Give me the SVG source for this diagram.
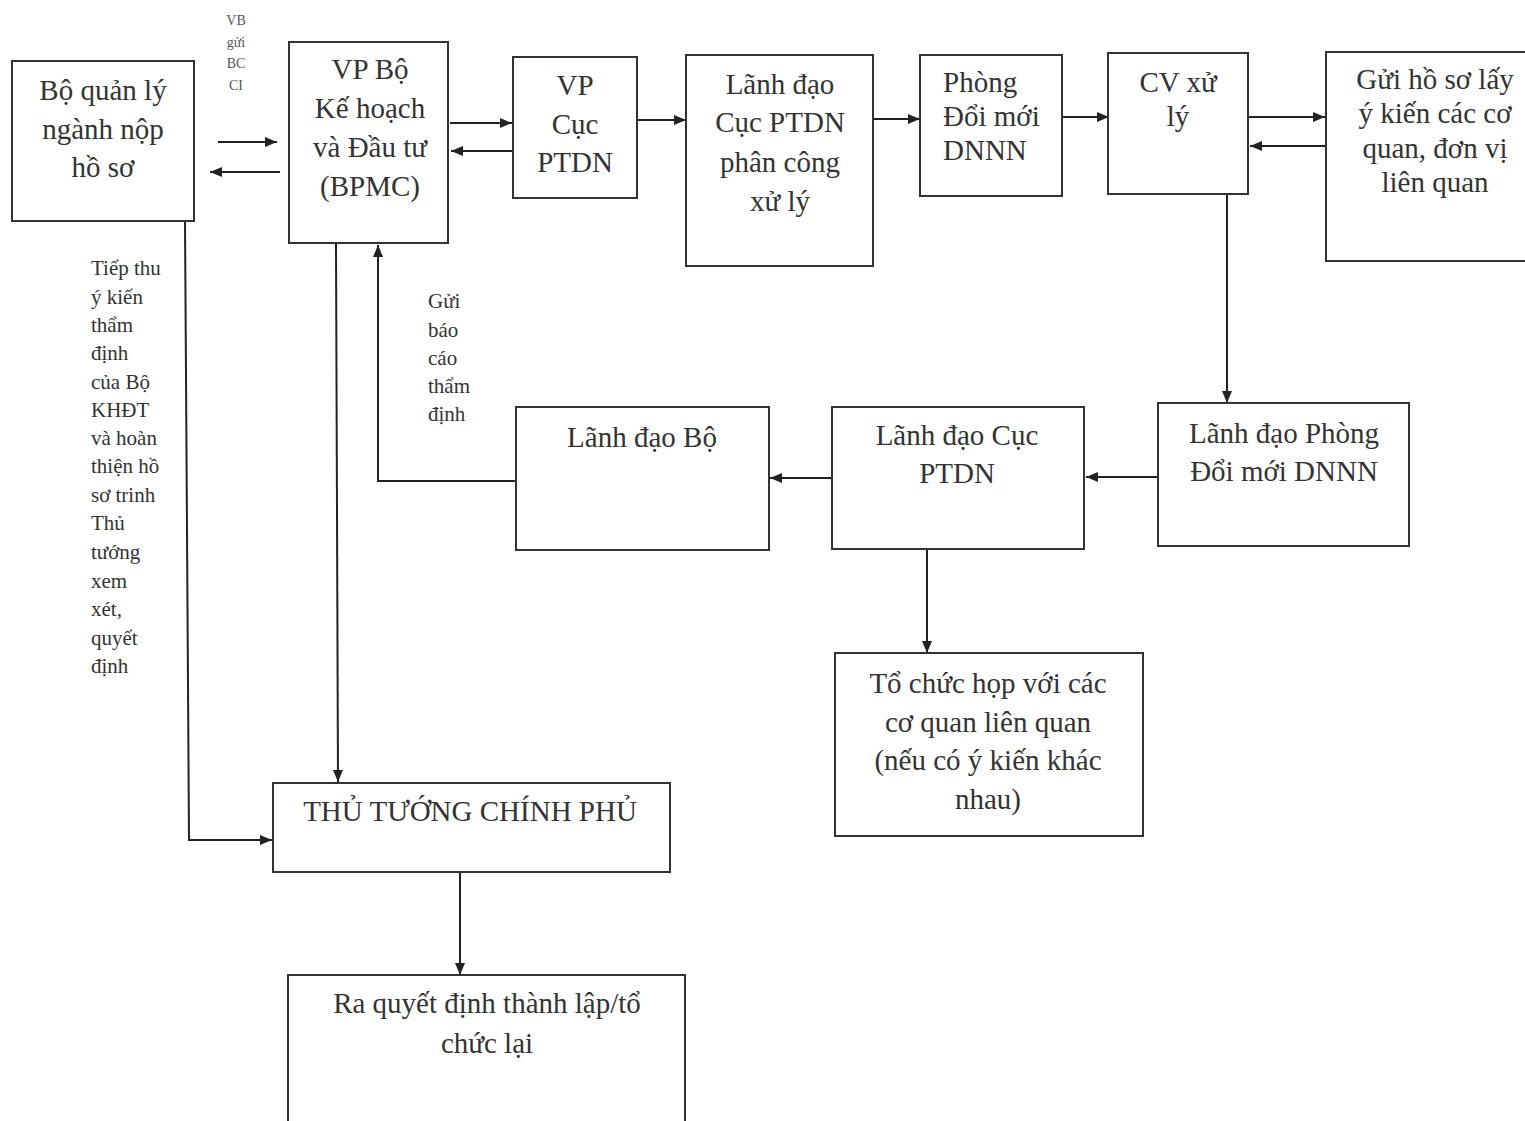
<svg xmlns="http://www.w3.org/2000/svg" width="1525" height="1121" viewBox="0 0 1525 1121">
<defs>
<marker id="ah" viewBox="0 0 12 10" refX="12" refY="5" markerWidth="12" markerHeight="10" markerUnits="userSpaceOnUse" orient="auto">
<path d="M0,0 L12,5 L0,10 Z" fill="#222"/>
</marker>
<style>
.box{fill:#fff;stroke:#333;stroke-width:2}
.t{font-family:"Liberation Serif","Times New Roman",serif;font-size:29px;fill:#333;text-anchor:middle}
.tl{font-family:"Liberation Serif","Times New Roman",serif;font-size:29px;fill:#333}
.s{font-family:"Liberation Serif","Times New Roman",serif;font-size:21px;fill:#333}
.xs{font-family:"Liberation Serif","Times New Roman",serif;font-size:14px;fill:#555;text-anchor:middle}
.c{fill:none;stroke:#222;stroke-width:2}
.ca{fill:none;stroke:#222;stroke-width:2;marker-end:url(#ah)}
</style>
</defs>
<rect width="1525" height="1121" fill="#fff"/>

<g id="connectors">
<line class="ca" x1="218" y1="142" x2="277" y2="142"/>
<line class="ca" x1="280" y1="172" x2="210" y2="172"/>
<line class="ca" x1="450" y1="123" x2="512" y2="123"/>
<line class="ca" x1="512" y1="151" x2="451" y2="151"/>
<line class="ca" x1="638" y1="120" x2="686" y2="120"/>
<line class="ca" x1="873" y1="119" x2="920" y2="119"/>
<line class="ca" x1="1062" y1="117" x2="1109" y2="117"/>
<line class="ca" x1="1249" y1="117" x2="1325" y2="117"/>
<line class="ca" x1="1326" y1="146" x2="1250" y2="146"/>
<line class="ca" x1="1227" y1="195" x2="1227" y2="403"/>
<line class="ca" x1="1158" y1="477" x2="1086" y2="477"/>
<line class="ca" x1="832" y1="478" x2="770" y2="478"/>
<polyline class="ca" points="516,481 378,481 378,245"/>
<line class="ca" x1="927" y1="550" x2="927" y2="653"/>
<line class="ca" x1="336" y1="244" x2="338" y2="782"/>
<polyline class="ca" points="185,221 189,840 272,840"/>
<line class="ca" x1="460" y1="872" x2="460" y2="975"/>
</g>

<g id="n1"><rect class="box" x="12" y="61" width="182" height="160"/>
<text class="t" x="103" y="100">Bộ quản lý</text>
<text class="t" x="103" y="139">ngành nộp</text>
<text class="t" x="103" y="177">hồ sơ</text></g>

<g id="n2"><rect class="box" x="289" y="42" width="159" height="201"/>
<text class="t" x="370" y="79">VP Bộ</text>
<text class="t" x="370" y="118">Kế hoạch</text>
<text class="t" x="370" y="157">và Đầu tư</text>
<text class="t" x="370" y="196">(BPMC)</text></g>

<g id="n3"><rect class="box" x="513" y="57" width="124" height="141"/>
<text class="t" x="575" y="95">VP</text>
<text class="t" x="575" y="134">Cục</text>
<text class="t" x="575" y="172">PTDN</text></g>

<g id="n4"><rect class="box" x="686" y="55" width="187" height="211"/>
<text class="t" x="780" y="94">Lãnh đạo</text>
<text class="t" x="780" y="132">Cục PTDN</text>
<text class="t" x="780" y="172">phân công</text>
<text class="t" x="780" y="211">xử lý</text></g>

<g id="n5"><rect class="box" x="920" y="55" width="142" height="141"/>
<text class="tl" x="943" y="92">Phòng</text>
<text class="tl" x="943" y="126">Đổi mới</text>
<text class="tl" x="943" y="160">DNNN</text></g>

<g id="n6"><rect class="box" x="1108" y="53" width="140" height="141"/>
<text class="t" x="1178" y="92">CV xử</text>
<text class="t" x="1178" y="126">lý</text></g>

<g id="n7"><rect class="box" x="1326" y="52" width="205" height="209"/>
<text class="t" x="1435" y="89">Gửi hồ sơ lấy</text>
<text class="t" x="1435" y="123">ý kiến các cơ</text>
<text class="t" x="1435" y="158">quan, đơn vị</text>
<text class="t" x="1435" y="192">liên quan</text></g>

<g id="n8"><rect class="box" x="1158" y="403" width="251" height="143"/>
<text class="t" x="1284" y="443">Lãnh đạo Phòng</text>
<text class="t" x="1284" y="481">Đổi mới DNNN</text></g>

<g id="n9"><rect class="box" x="832" y="407" width="252" height="142"/>
<text class="t" x="957" y="445">Lãnh đạo Cục</text>
<text class="t" x="957" y="483">PTDN</text></g>

<g id="n10"><rect class="box" x="516" y="407" width="253" height="143"/>
<text class="t" x="642" y="447">Lãnh đạo Bộ</text></g>

<g id="n11"><rect class="box" x="835" y="653" width="308" height="183"/>
<text class="t" x="988" y="693">Tổ chức họp với các</text>
<text class="t" x="988" y="732">cơ quan liên quan</text>
<text class="t" x="988" y="770">(nếu có ý kiến khác</text>
<text class="t" x="988" y="809">nhau)</text></g>

<g id="n12"><rect class="box" x="273" y="783" width="397" height="89"/>
<text class="t" x="470" y="821">THỦ TƯỚNG CHÍNH PHỦ</text></g>

<g id="n13"><rect class="box" x="288" y="975" width="397" height="160"/>
<text class="t" x="487" y="1013">Ra quyết định thành lập/tổ</text>
<text class="t" x="487" y="1053">chức lại</text></g>

<g id="lbl-vb">
<text class="xs" x="236" y="25">VB</text>
<text class="xs" x="236" y="47">gửi</text>
<text class="xs" x="236" y="68">BC</text>
<text class="xs" x="236" y="90">CI</text>
</g>

<g id="lbl-left">
<text class="s" x="91" y="275">Tiếp thu</text>
<text class="s" x="91" y="304">ý kiến</text>
<text class="s" x="91" y="332">thẩm</text>
<text class="s" x="91" y="360">định</text>
<text class="s" x="91" y="389">của Bộ</text>
<text class="s" x="91" y="417">KHĐT</text>
<text class="s" x="91" y="445">và  hoàn</text>
<text class="s" x="91" y="473">thiện hồ</text>
<text class="s" x="91" y="502">sơ  trinh</text>
<text class="s" x="91" y="530">Thủ</text>
<text class="s" x="91" y="559">tướng</text>
<text class="s" x="91" y="588">xem</text>
<text class="s" x="91" y="616">xét,</text>
<text class="s" x="91" y="645">quyết</text>
<text class="s" x="91" y="673">định</text>
</g>

<g id="lbl-report">
<text class="s" x="428" y="308">Gửi</text>
<text class="s" x="428" y="337">báo</text>
<text class="s" x="428" y="365">cáo</text>
<text class="s" x="428" y="393">thẩm</text>
<text class="s" x="428" y="421">định</text>
</g>
</svg>
